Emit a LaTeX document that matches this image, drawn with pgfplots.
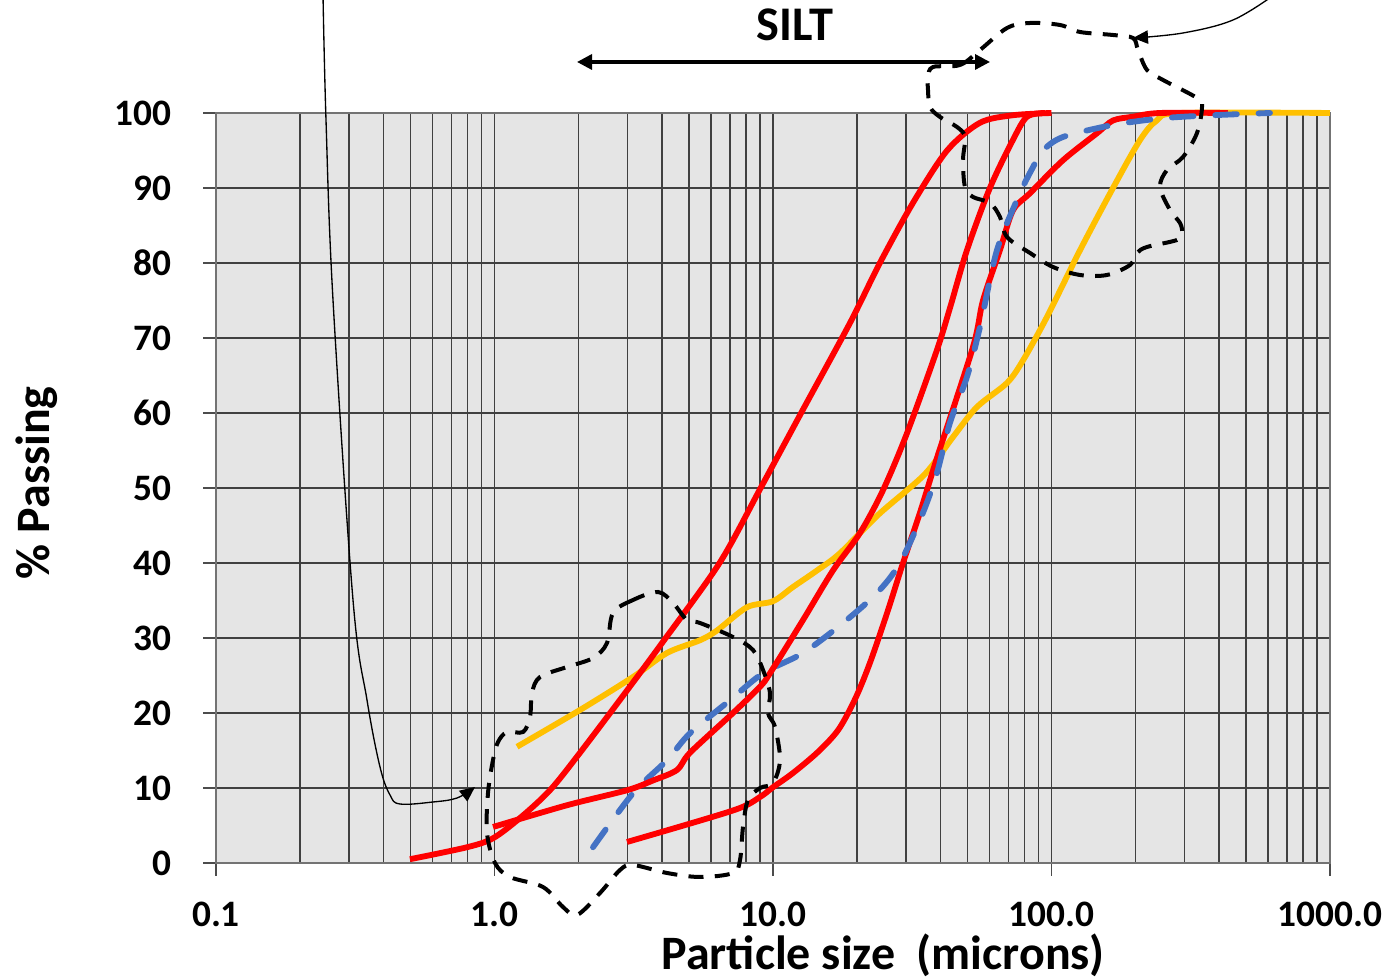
\documentclass[border=0pt]{standalone}
\usepackage{fontspec}
\setmainfont{Carlito}
\usepackage{pgfplots}
\pgfplotsset{compat=1.18}
\usetikzlibrary{arrows.meta}

\definecolor{psdred}{HTML}{FF0000}
\definecolor{psdyellow}{HTML}{FFC000}
\definecolor{psdblue}{HTML}{4472C4}

\pgfplotstableread{
d p
0.497 0.5
0.797 2.1
0.988 3.3
1.235 6.0
1.582 9.7
2.028 14.7
2.991 23.0
4.027 29.5
6.43 40.0
9.03 50.0
12.62 60.0
18.9 72.0
24.2 80.0
31.8 88.0
42.2 95.0
55.4 98.7
72.7 99.7
100 100
}\curveA

\pgfplotstableread{
d p
0.988 4.8
1.821 7.7
2.991 9.7
3.708 11.0
4.521 12.4
5.035 14.7
7.186 20.0
8.982 23.5
9.755 25.3
12.82 32.4
16.42 39.0
20.53 44.0
24.83 49.7
30.28 57.3
38.8 68.4
43.2 74.0
49.7 81.7
60.1 90.0
72.7 96.4
81.7 99.5
95 100
}\curveB

\pgfplotstableread{
d p
2.991 2.8
7.186 7.0
8.982 8.8
10.0 10.1
11.8 12.0
14.5 14.8
17.2 17.8
19.8 22.0
22.3 26.7
25.67 33.3
29.3 40.0
33.71 46.7
38.8 54.0
52.25 68.8
56.76 75.0
65.3 81.7
72.7 87.0
83.7 89.3
110 93.7
145.7 97.3
166.3 99.0
196 99.5
245 100
430 100
}\curveC

\pgfplotstableread{
d p
1.205 15.5
2.028 20.4
3.143 24.8
4.163 28.0
5.47 29.7
6.295 31.0
8.065 34.1
10.0 34.9
11.8 36.8
14.39 39.0
17.4 41.3
24.0 46.5
35.0 51.8
44.3 56.8
54.0 60.8
69.2 64.0
79 67.0
96.3 72.8
126.6 81.7
166.3 90.0
208 96.4
239 99.0
289 100
1000 100
}\curveD

\pgfplotstableread{
d p
2.258 2.1
3.143 9.3
4.163 13.7
5.035 17.3
7.008 21.7
9.207 25.3
12.82 28.0
17.84 32.0
23.63 36.0
28.58 40.0
34.56 46.7
38.8 52.0
43.2 58.7
49.7 64.8
55.4 71.5
63.7 81.7
77.1 89.3
85.9 92.8
93.2 95.0
110 96.8
166 98.4
251 99.3
380 99.7
609 100
}\curveE

\begin{document}
\begin{tikzpicture}
\begin{axis}[
  name=ax,
  scale only axis,
  width=334.2pt, height=225pt,
  xmode=log,
  xmin=0.1, xmax=1000, ymin=0, ymax=100,
  xtick={0.1,1,10,100,1000},
  xticklabels={0.1,1.0,10.0,100.0,1000.0},
  ytick={0,10,...,100},
  /pgf/number format/assume math mode=true,
  tick label style={font=\bfseries\fontsize{11.2}{13}\selectfont},
  xticklabel style={yshift=-4.5pt},
  yticklabel style={xshift=-6pt},
  tick align=outside,
  xtick pos=lower, ytick pos=left,
  major tick length=3.8pt,
  minor tick length=0pt,
  tick style={black!70, line width=0.5pt},
  grid=both,
  major grid style={black!75, line width=0.45pt},
  minor grid style={black!75, line width=0.45pt},
  axis background/.style={fill=black!10},
  axis line style={black!55, line width=0.7pt},
  xlabel={Particle size\ \ (microns)},
  ylabel={\% Passing},
  label style={font=\bfseries\fontsize{14.4}{16}\selectfont},
  xlabel style={at={(axis description cs:0.599,-0.123)}, anchor=center},
  ylabel style={at={(axis description cs:-0.161,0.507)}, anchor=center, rotate=0},
  clip=false,
  every axis plot/.append style={smooth, tension=0.5, line width=1.75pt, no markers},
]
\addplot[psdyellow] table[x=d, y=p] {\curveD};
\addplot[psdred] table[x=d, y=p] {\curveC};
\addplot[psdblue, dash pattern=on 6.5pt off 6.5pt, line cap=round] table[x=d, y=p] {\curveE};
\addplot[psdred] table[x=d, y=p] {\curveB};
\addplot[psdred] table[x=d, y=p] {\curveA};
\end{axis}

% annotations, in picture pixels of the reference
\begin{scope}[shift={(ax.south west)}, xshift=-64.8pt, yshift=258.9pt, x=0.3pt, y=-0.3pt]
  \draw[line width=1.2pt, dash pattern=on 4.5pt off 3.4pt] plot[smooth cycle, tension=0.55] coordinates {
    (658,592) (633,600) (613,613) (607,643) (593,658) (567,667) (540,677) (532,693)
    (530,717) (523,732) (507,732) (498,742) (493,760) (488,793) (487,833) (495,863)
    (510,877) (543,887) (563,907) (577,915) (600,893) (620,870) (633,865) (667,873)
    (700,877) (733,873) (740,860) (743,827) (748,800) (760,788) (773,783) (780,760)
    (775,727) (768,713) (770,693) (763,670) (753,650) (733,637) (700,623) (687,620)
    (673,603)};
  \draw[line width=1.2pt, dash pattern=on 4.5pt off 3.4pt] plot[smooth cycle, tension=0.55] coordinates {
    (933,67) (960,65) (980,50) (1007,28) (1030,23) (1060,25) (1080,32) (1113,35)
    (1133,38) (1138,50) (1147,70) (1163,80) (1197,98) (1202,107) (1197,133) (1183,157)
    (1167,170) (1160,187) (1170,210) (1180,223) (1182,233) (1177,240) (1147,247) (1137,253)
    (1130,265) (1107,275) (1080,275) (1053,267) (1030,253) (1007,237) (1000,217) (990,203)
    (973,197) (965,187) (963,160) (965,137) (957,127) (940,117) (930,107) (928,90)
    (928,77)};
  \draw[line width=0.4pt, -{Triangle[length=4.5pt,width=4pt]}] plot[smooth, tension=0.6] coordinates {
    (323,-5) (326,120) (333,300) (353,600) (367,700) (380,767) (390,795) (400,804)
    (433,802) (457,798) (475,787)};
  \draw[line width=0.4pt, -{Triangle[length=4.5pt,width=4pt]}] plot[smooth, tension=0.6] coordinates {
    (1274,-5) (1233,20) (1183,33) (1133,38)};
  \draw[line width=1pt, {Triangle[length=4.5pt,width=4.5pt]}-{Triangle[length=4.5pt,width=4.5pt]}]
    (577,62) -- (990,62);
  \node[font=\bfseries\fontsize{14.5}{16}\selectfont] at (795,25) {SILT};
\end{scope}

\pgfresetboundingbox
\path (ax.south west) ++(-64.8pt,-35.1pt) rectangle ++(415.8pt,294pt);
\end{tikzpicture}
\end{document}
